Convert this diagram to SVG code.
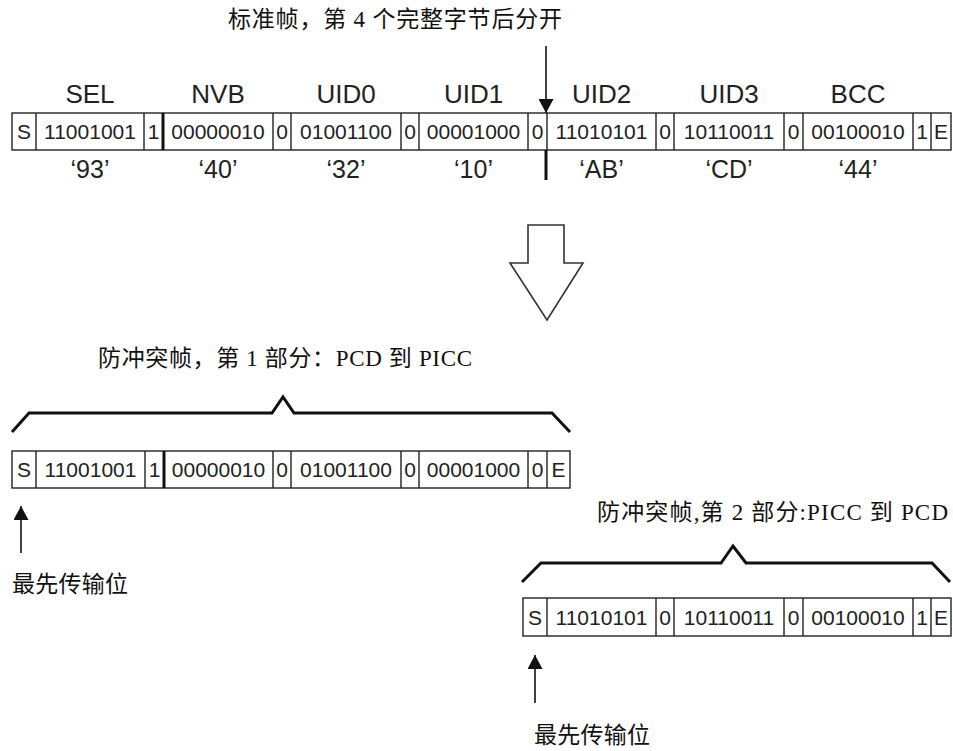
<svg xmlns="http://www.w3.org/2000/svg" width="953" height="751" viewBox="0 0 953 751">
<defs>
<style>
.box{fill:#fff;stroke:#222;stroke-width:1.4}
.sep{stroke:#222;stroke-width:1.4}
.thick{stroke:#111;stroke-width:3}
.cell{font-family:"Liberation Sans",Arial,sans-serif;font-size:21px;fill:#222;text-anchor:middle}
.lbl{font-family:"Liberation Sans",Arial,sans-serif;font-size:26px;fill:#222;text-anchor:middle}
.hex{font-family:"Liberation Sans",Arial,sans-serif;font-size:25px;fill:#222;text-anchor:middle}
.cjk{font-family:"Liberation Serif","Noto Sans CJK SC",serif;font-size:23px;fill:#111}
.brace{fill:none;stroke:#111;stroke-width:3;stroke-linejoin:miter}
.arr{stroke:#111;stroke-width:1.6;fill:none}
.hollow{fill:#fff;stroke:#333;stroke-width:1.6}
</style>
<marker id="ah" viewBox="0 0 10 10" refX="10" refY="5" markerWidth="14" markerHeight="15" markerUnits="userSpaceOnUse" orient="auto" preserveAspectRatio="none">
<path d="M0,0 L10,5 L0,10 z" fill="#111"/>
</marker>
</defs>
<rect width="953" height="751" fill="#fff"/>

<g id="title">
<text class="cjk" x="228" y="27" textLength="334" lengthAdjust="spacing">标准帧，第 4 个完整字节后分开</text>
</g>

<g id="field-labels">
<text class="lbl" x="90" y="103">SEL</text>
<text class="lbl" x="218" y="103">NVB</text>
<text class="lbl" x="346" y="103">UID0</text>
<text class="lbl" x="473.5" y="103">UID1</text>
<text class="lbl" x="601.5" y="103">UID2</text>
<text class="lbl" x="729" y="103">UID3</text>
<text class="lbl" x="858" y="103">BCC</text>
</g>

<g id="standard-frame">
<rect class="box" x="12" y="113" width="939" height="37"/>
<path class="sep" d="M36,113V150M144,113V150M273,113V150M291,113V150M401,113V150M419,113V150M528,113V150M547,113V150M656,113V150M674,113V150M784,113V150M803,113V150M913,113V150M931,113V150"/>
<line class="thick" x1="163" y1="113" x2="163" y2="150"/>
<text class="cell" x="24" y="139">S</text>
<text class="cell" x="90" y="139">11001001</text>
<text class="cell" x="153.5" y="139">1</text>
<text class="cell" x="218" y="139">00000010</text>
<text class="cell" x="282" y="139">0</text>
<text class="cell" x="346" y="139">01001100</text>
<text class="cell" x="410" y="139">0</text>
<text class="cell" x="473.5" y="139">00001000</text>
<text class="cell" x="537.5" y="139">0</text>
<text class="cell" x="601.5" y="139">11010101</text>
<text class="cell" x="665" y="139">0</text>
<text class="cell" x="729" y="139">10110011</text>
<text class="cell" x="793.5" y="139">0</text>
<text class="cell" x="858" y="139">00100010</text>
<text class="cell" x="922" y="139">1</text>
<text class="cell" x="941" y="139">E</text>
</g>

<g id="hex-values">
<text class="hex" x="90" y="178">‘93’</text>
<text class="hex" x="218" y="178">‘40’</text>
<text class="hex" x="346" y="178">‘32’</text>
<text class="hex" x="473.5" y="178">‘10’</text>
<text class="hex" x="601.5" y="178">‘AB’</text>
<text class="hex" x="729" y="178">‘CD’</text>
<text class="hex" x="858" y="178">‘44’</text>
</g>

<g id="part1-title">
<text class="cjk" x="98" y="366" textLength="374" lengthAdjust="spacing">防冲突帧，第 1 部分：PCD 到 PICC</text>
</g>

<g id="part1-frame">
<rect class="box" x="12" y="451" width="558" height="37"/>
<path class="sep" d="M36,451V488M145,451V488M273,451V488M291,451V488M401,451V488M419,451V488M528,451V488M547,451V488"/>
<line class="thick" x1="164" y1="451" x2="164" y2="488"/>
<text class="cell" x="24" y="477">S</text>
<text class="cell" x="90.5" y="477">11001001</text>
<text class="cell" x="154.5" y="477">1</text>
<text class="cell" x="218.5" y="477">00000010</text>
<text class="cell" x="282" y="477">0</text>
<text class="cell" x="346" y="477">01001100</text>
<text class="cell" x="410" y="477">0</text>
<text class="cell" x="473.5" y="477">00001000</text>
<text class="cell" x="537.5" y="477">0</text>
<text class="cell" x="558.5" y="477">E</text>
</g>

<g id="part1-first-bit">
<text class="cjk" x="12" y="592" textLength="116" lengthAdjust="spacing">最先传输位</text>
</g>

<g id="part2-title">
<text class="cjk" x="597" y="520" textLength="351" lengthAdjust="spacing">防冲突帧,第 2 部分:PICC 到 PCD</text>
</g>

<g id="part2-frame">
<rect class="box" x="523" y="598" width="428" height="38"/>
<path class="sep" d="M547,598V636M656,598V636M674,598V636M784,598V636M803,598V636M913,598V636M931,598V636"/>
<text class="cell" x="535" y="625">S</text>
<text class="cell" x="601.5" y="625">11010101</text>
<text class="cell" x="665" y="625">0</text>
<text class="cell" x="729" y="625">10110011</text>
<text class="cell" x="793.5" y="625">0</text>
<text class="cell" x="858" y="625">00100010</text>
<text class="cell" x="922" y="625">1</text>
<text class="cell" x="941" y="625">E</text>
</g>

<g id="part2-first-bit">
<text class="cjk" x="534" y="743" textLength="116" lengthAdjust="spacing">最先传输位</text>
</g>

<g id="connectors">
<line class="arr" x1="546" y1="46" x2="546" y2="113" marker-end="url(#ah)"/>
<line class="thick" x1="546" y1="150" x2="546" y2="180"/>
<polygon class="hollow" points="528,225 564,225 564,263 583,263 547,320 510,263 528,263"/>
<polyline class="brace" points="12,432 29,413 272,413 283,397 294,413 552,413 570,432"/>
<polyline class="brace" points="522,582 541,563 721,563 733,546 746,563 932,563 950,582"/>
<line class="arr" x1="21" y1="553" x2="21" y2="506" marker-end="url(#ah)"/>
<line class="arr" x1="535" y1="703" x2="535" y2="655" marker-end="url(#ah)"/>
</g>
</svg>
